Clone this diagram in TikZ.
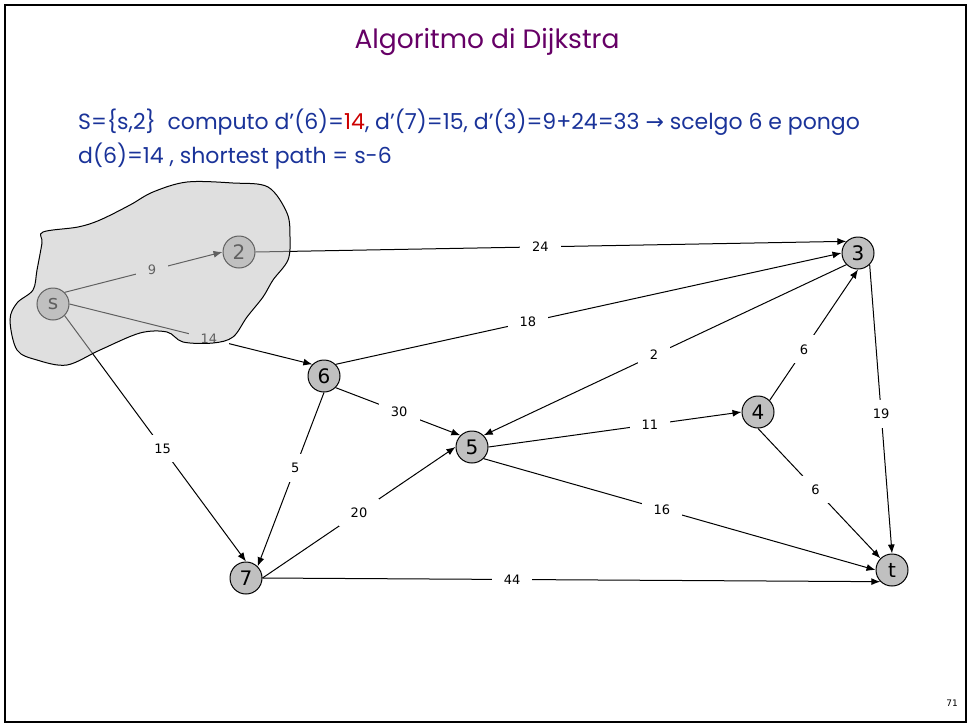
\documentclass[tikz,border=0pt]{standalone}
\usepackage{fontspec}
\setmainfont{Poppins}
\newfontfamily\dejavu{DejaVu Sans}
\usetikzlibrary{arrows.meta}
\definecolor{titlecol}{RGB}{102,0,102}
\definecolor{txtblue}{RGB}{26,51,153}
\definecolor{txtred}{RGB}{204,0,0}
\definecolor{nodegray}{RGB}{192,192,192}
\begin{document}
\begin{tikzpicture}[x=1pt,y=-1pt,
  vtx/.style={circle,draw,line width=1pt,fill=nodegray,minimum size=32pt,inner sep=0pt,font=\dejavu\fontsize{20}{20}\selectfont},
  arc/.style={line width=1pt,-{Latex[length=9pt,width=7pt]}},
  lbl/.style={fill=white,inner xsep=12pt,inner ysep=9pt,font=\dejavu\fontsize{13}{13}\selectfont},
  bluetext/.style={anchor=base west,inner sep=0pt,text=txtblue,font=\fontsize{22}{22}\selectfont}]
\useasboundingbox (0,0) rectangle (969,726);
\draw[line width=2pt] (5,5) rectangle (966,722);
\node[text=titlecol,font=\fontsize{26.5}{26.5}\selectfont] (title) at (487,42) {Algoritmo di Dijkstra};
\node[bluetext] (l1) at (78,129) {S=\{s,2\}\ \ computo d’(6)=\textcolor{txtred}{14}, d’(7)=15, d’(3)=9+24=33 {\dejavu →} scelgo 6 e pongo};
\node[bluetext] (l2) at (78,163) {d(6)=14 ,\ shortest path = s-6};
\node[font=\dejavu\fontsize{9}{9}\selectfont] (pg) at (952,703) {71};
% vertices
\node[vtx] (s) at (53,304) {s};
\node[vtx] (v2) at (239,252) {2};
\node[vtx] (v3) at (858,253) {3};
\node[vtx] (v6) at (324,376) {6};
\node[vtx] (v5) at (472,447) {5};
\node[vtx] (v4) at (758,412) {4};
\node[vtx] (v7) at (246,578) {7};
\node[vtx] (t) at (892,570) {t};
% edges
\draw[arc] (s.north east) -- node[lbl,pos=.553]{9} (v2.west);
\draw[arc] (s.east) -- node[lbl,pos=.574]{14} (v6.north west);
\draw[arc] (s.south east) -- node[lbl,pos=.54]{15} (v7.north);
\draw[arc] (v2.east) -- node[lbl,pos=.482]{24} (v3.north west);
\draw[arc] (v6.north east) -- node[lbl,pos=.38]{18} (v3.west);
\draw[arc] (v3.south west) -- node[lbl,pos=.53]{2} (v5.north east);
\draw[arc] (v4.north east) -- node[lbl,pos=.39]{6} (v3.south);
\draw[arc] (v6.south east) -- node[lbl,pos=.51]{30} (v5.north west);
\draw[arc] (v6.south) -- node[lbl,pos=.435]{5} (v7.north east);
\draw[arc] (v7.east) -- node[lbl,pos=.5]{20} (v5.west);
\draw[arc] (v5.east) -- node[lbl,pos=.638]{11} (v4.west);
\draw[arc] (v5.south east) -- node[lbl,pos=.455]{16} (t.west);
\draw[arc] (v4.south) -- node[lbl,pos=.47]{6} (t.north west);
\draw[arc] (v3.south east) -- node[lbl,pos=.517]{19} (t.north);
\draw[arc] (v7.east) -- node[lbl,pos=.404]{44} (t.south west);
% blob overlay
\draw[line width=1pt,fill=nodegray,fill opacity=0.5] plot[smooth cycle,tension=0.55] coordinates {
(43,232) (78,227) (100,220) (130,205) (153,192) (187,182) (233,183) (268,187)
(287,213) (290,237) (288,260) (273,280) (263,297) (247,317) (233,337) (213,343)
(183,342) (167,332) (140,333) (100,350) (67,365) (37,360) (17,350) (10,320)
(17,303) (33,290) (37,270) (42,243)};
\end{tikzpicture}
\end{document}
